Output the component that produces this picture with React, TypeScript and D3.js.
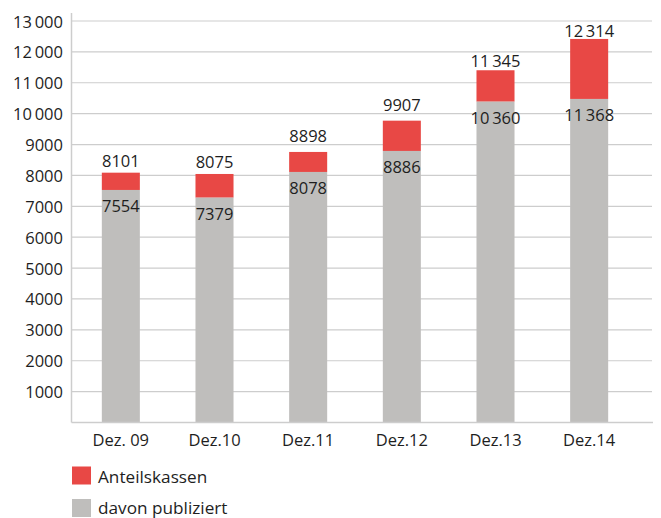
import React from 'react'
import * as d3 from 'd3'

// categories and values
const periods = ['Dez. 09', 'Dez.10', 'Dez.11', 'Dez.12', 'Dez.13', 'Dez.14']
// printed values
const anteilskassen = [8101, 8075, 8898, 9907, 11345, 12314]
const publiziert = [7554, 7379, 8078, 8886, 10360, 11368]
// bar heights as drawn (they do not match the printed numbers exactly)
const barTotal = [8089, 8047, 8760, 9773, 11405, 12419]
const barPublished = [7529, 7280, 8112, 8792, 10388, 10476]
const yTicks = [1000, 2000, 3000, 4000, 5000, 6000, 7000, 8000, 9000, 10000, 11000, 12000, 13000]

const RED = '#e84845'
const GRAY = '#bfbebc'
const GRID = '#cdcdcd'
const TEXT = '#1e1e1e'
const FONT = '"Open Sans", "Noto Sans", sans-serif'

// German style: thin space only for 5+ digits
const fmt = (v: number) => {
  const s = String(v)
  return s.length > 4 ? s.slice(0, s.length - 3) + '\u2009' + s.slice(-3) : s
}

export default function App() {
  const width = 661
  const height = 518
  const left = 71.5
  const gridRight = 652
  const base = 422.5

  const y = d3.scaleLinear().domain([0, 13000]).range([base, 21])
  const x = d3.scaleBand<string>()
    .domain(periods)
    .range([74, 636])
    .paddingInner(0.594)
    .paddingOuter(0.297)
  const bw = x.bandwidth()

  return (
    <svg width={width} height={height} style={{ position: 'absolute', left: 0, top: 0, background: '#fff' }}
      fontFamily={FONT}>
      {/* grid */}
      {yTicks.map(t => (
        <g key={t}>
          <line x1={left} x2={gridRight} y1={y(t)} y2={y(t)} stroke={GRID} strokeWidth={1.2} />
          <text x={63} y={y(t) + 6.5} textAnchor="end" fontSize={16.5} fill={TEXT}>{fmt(t)}</text>
        </g>
      ))}

      {/* bars */}
      {periods.map((p, i) => {
        const x0 = x(p) as number
        const cx = x0 + bw / 2
        return (
          <g key={p}>
            <rect x={x0} width={bw} y={y(barTotal[i])} height={y(barPublished[i]) - y(barTotal[i])} fill={RED} />
            <rect x={x0} width={bw} y={y(barPublished[i])} height={base - y(barPublished[i])} fill={GRAY} />
            <text x={cx} y={y(anteilskassen[i]) - 5.5} textAnchor="middle" fontSize={16.5} fill={TEXT}>
              {fmt(anteilskassen[i])}
            </text>
            <text x={cx} y={y(barPublished[i]) + 22} textAnchor="middle" fontSize={16.5} fill={TEXT}>
              {fmt(publiziert[i])}
            </text>
            <text x={cx} y={446} textAnchor="middle" fontSize={16.5} fill={TEXT}>{p}</text>
          </g>
        )
      })}

      {/* axes */}
      <line x1={left} x2={left} y1={13} y2={base} stroke={GRID} strokeWidth={1.5} />
      <line x1={left} x2={gridRight + 1} y1={base} y2={base} stroke={GRID} strokeWidth={1.5} />

      {/* legend */}
      <rect x={72} y={466.5} width={19} height={18} fill={RED} />
      <text x={98} y={482.5} fontSize={17.2} fill={TEXT}>Anteilskassen</text>
      <rect x={72} y={499} width={19} height={18} fill={GRAY} />
      <text x={98} y={513.5} fontSize={17.2} fill={TEXT}>davon publiziert</text>
    </svg>
  )
}
